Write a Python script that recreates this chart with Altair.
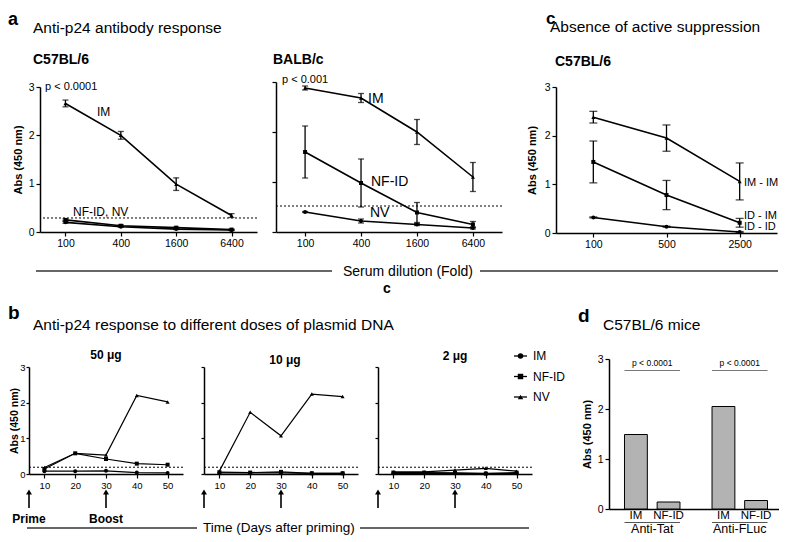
import altair as alt
import pandas as pd

FONT = "Liberation Sans"

# ---------------- Panel a: anti-p24 antibody response ----------------
dilutions_a = ["100", "400", "1600", "6400"]
a_series = ["IM", "NF-ID", "NV"]
c57_im = [2.66, 2.00, 0.99, 0.34]
c57_im_err = [0.07, 0.08, 0.13, 0.04]
c57_nfid = [0.25, 0.13, 0.09, 0.05]
c57_nfid_err = [0.02, 0.02, 0.01, 0.01]
c57_nv = [0.20, 0.11, 0.06, 0.04]
c57_nv_err = [0.02, 0.01, 0.01, 0.01]
c57_cutoff = [0.29]

balb_im = [2.88, 2.68, 2.00, 1.10]
balb_im_err = [0.04, 0.09, 0.25, 0.29]
balb_nfid = [1.60, 0.98, 0.39, 0.15]
balb_nfid_err = [0.52, 0.48, 0.20, 0.06]
balb_nv = [0.40, 0.22, 0.15, 0.08]
balb_nv_err = [0.01, 0.04, 0.02, 0.02]
balb_cutoff = [0.52]

# ---------------- Panel c: absence of active suppression ----------------
dilutions_c = ["100", "500", "2500"]
c_series = ["IM - IM", "ID - IM", "ID - ID"]
c_imim = [2.38, 1.95, 1.06]
c_imim_err = [0.12, 0.27, 0.38]
c_idim = [1.46, 0.78, 0.21]
c_idim_err = [0.43, 0.30, 0.09]
c_idid = [0.32, 0.13, 0.02]
c_idid_err = [0.01, 0.01, 0.01]

# ---------------- Panel b: doses of plasmid DNA ----------------
days = [10, 20, 30, 40, 50]
b_series = ["IM", "NF-ID", "NV"]
b50_im = [0.18, 0.58, 0.53, 2.20, 2.02]
b50_nfid = [0.14, 0.58, 0.42, 0.29, 0.26]
b50_nv = [0.08, 0.08, 0.09, 0.04, 0.03]
b10_im = [0.08, 1.73, 1.07, 2.24, 2.17]
b10_nfid = [0.05, 0.04, 0.06, 0.02, 0.02]
b10_nv = [0.03, 0.03, 0.03, 0.02, 0.02]
b2_im = [0.06, 0.06, 0.11, 0.16, 0.08]
b2_nfid = [0.04, 0.04, 0.03, 0.01, 0.04]
b2_nv = [0.02, 0.02, 0.02, 0.02, 0.02]
b_cutoff = [0.19]
immunisation_days = [5, 30]
immunisation_labels = ["Prime", "Boost"]

# ---------------- Panel d: C57BL/6 mice ----------------
d_antigens = ["Anti-Tat", "Anti-FLuc"]
d_routes = ["IM", "NF-ID"]
d_tat = [1.49, 0.14]
d_fluc = [2.05, 0.17]
d_pvalue = "p < 0.0001"
d_pline = 2.78


def long_df(xs, names, values, errs):
    rows = []
    for n, v, e in zip(names, values, errs):
        for i, (x, vv, ee) in enumerate(zip(xs, v, e)):
            rows.append({"x": x, "idx": i, "series": n, "value": vv, "err": ee})
    return pd.DataFrame(rows)


def txt(s, x, y, size=12, weight="normal", align="left", baseline="middle"):
    return alt.Chart(pd.DataFrame({"t": [s]})).mark_text(
        align=align, baseline=baseline, fontSize=size, fontWeight=weight,
        color="black", font=FONT
    ).encode(text="t:N", x=alt.value(x), y=alt.value(y))


def hline(x1, x2, y, color="#333333", width=1.3):
    return alt.Chart(pd.DataFrame({"z": [0]})).mark_rule(
        color=color, strokeWidth=width
    ).encode(x=alt.value(x1), x2=alt.value(x2), y=alt.value(y))


def anchor(x, y):
    # 1px white box that pins the outer bounds of a row
    return alt.Chart(pd.DataFrame({"z": [0]})).mark_rect(color="white", opacity=1).encode(
        x=alt.value(x), x2=alt.value(x + 1), y=alt.value(y), y2=alt.value(y + 1))


def spacer(w, h=1):
    return alt.Chart(pd.DataFrame({"z": [0]})).mark_point(opacity=0).encode(
        x=alt.value(0), y=alt.value(0)
    ).properties(width=w, height=h)


AX = dict(domainColor="black", tickColor="black", labelColor="black", titleColor="black",
          domainWidth=1.5, tickWidth=1.2, labelFont=FONT, titleFont=FONT, grid=False,
          titleFontWeight="bold", titleFontSize=11, labelPadding=2)


def line_layers(df, xtype, xs, xax, ys, yax, shapes, shape_range,
                pt_size, lw, cutoff, err=True, cap=6):
    def X():
        return alt.X(f"x:{xtype}", scale=xs, axis=xax)

    def Y(field):
        return alt.Y(f"{field}:Q", scale=ys, axis=yax)

    base = alt.Chart(df)
    layers = [
        base.mark_line(color="black", strokeWidth=lw).encode(
            x=X(), y=Y("value"), detail="series:N", order="idx:Q"
        ),
    ]
    if cutoff:
        layers.append(alt.Chart(pd.DataFrame({"c": cutoff})).mark_rule(
            color="black", strokeDash=[2, 2], strokeWidth=1
        ).encode(y=Y("c")))
    if err:
        layers.append(
            base.transform_calculate(
                lo="datum.value - datum.err", hi="datum.value + datum.err"
            ).mark_errorbar(ticks=True, size=cap, thickness=1.3, color="black").encode(
                x=X(), y=Y("lo"), y2="hi:Q"
            )
        )
    layers.append(
        base.mark_point(filled=True, color="black", opacity=1, size=pt_size).encode(
            x=X(), y=Y("value"),
            shape=alt.Shape("series:N", scale=alt.Scale(domain=shapes, range=shape_range), legend=None),
        )
    )
    return layers


yvals = [0, 1, 2, 3]

# ---------- C57BL/6 (panel a) ----------
c57_df = long_df(dilutions_a, a_series, [c57_im, c57_nfid, c57_nv],
                 [c57_im_err, c57_nfid_err, c57_nv_err])
xax_a = alt.Axis(title=None, labelAngle=0, labelFontSize=10.5, tickSize=4, **AX)
c57_layers = line_layers(
    c57_df, "O", alt.Scale(type="point", domain=dilutions_a, padding=0.46), xax_a,
    alt.Scale(domain=[0, 3], range=[150, 5], nice=False),
    alt.Axis(values=yvals, title="Abs (450 nm)", titlePadding=5, labelFontSize=10.5, tickSize=4, **AX),
    a_series, ["triangle-up", "square", "circle"], 16, 1.6, c57_cutoff,
)
c57 = alt.layer(
    *c57_layers,
    anchor(-38, -80),
    anchor(-38, 217),
    txt("a", -32, -57, 18, "bold", "left", "alphabetic"),
    txt("Anti-p24 antibody response", -7, -54, 15.5),
    txt("C57BL/6", -7, -22, 14, "bold"),
    txt("p < 0.0001", 5, 5, 11),
    txt("IM", 57, 30, 12),
    txt("NF-ID, NV", 33, 130, 12),
    hline(-4, 292, 189),
    txt("Serum dilution (Fold)", 303, 194, 14, "normal", "left", "alphabetic"),
    hline(440, 738, 189),
    txt("c", 347, 211, 14, "bold", "center", "alphabetic"),
).properties(width=217, height=150)

# ---------- BALB/c (panel a) ----------
balb_df = long_df(dilutions_a, a_series, [balb_im, balb_nfid, balb_nv],
                  [balb_im_err, balb_nfid_err, balb_nv_err])
balb_layers = line_layers(
    balb_df, "O", alt.Scale(type="point", domain=dilutions_a, padding=0.52), xax_a,
    alt.Scale(domain=[0, 3], nice=False),
    alt.Axis(values=yvals, title=None, labels=False, tickSize=4, **AX),
    a_series, ["triangle-up", "square", "circle"], 16, 1.6, balb_cutoff,
)
balb = alt.layer(
    *balb_layers,
    txt("BALB/c", -3, -22, 14, "bold"),
    txt("p < 0.001", 6, -2, 11),
    txt("IM", 92, 17, 14),
    txt("NF-ID", 95, 100, 14),
    txt("NV", 94, 131, 14),
).properties(width=226, height=150)

# ---------- panel c ----------
c_df = long_df(dilutions_c, c_series, [c_imim, c_idim, c_idid],
               [c_imim_err, c_idim_err, c_idid_err])
c_layers = line_layers(
    c_df, "O", alt.Scale(type="point", domain=dilutions_c, padding=0.51), xax_a,
    alt.Scale(domain=[0, 3], range=[151, 5], nice=False),
    alt.Axis(values=yvals, title="Abs (450 nm)", titlePadding=7, labelFontSize=10.5, tickSize=4, **AX),
    c_series, ["triangle-up", "square", "circle"], 16, 1.6, [], cap=8,
)
cpan = alt.layer(
    *c_layers,
    txt("c", -10, -58, 17, "bold", "left", "alphabetic"),
    txt("Absence of active suppression", -6, -55, 15.5),
    txt("C57BL/6", -1, -20, 14, "bold"),
    txt("IM - IM", 188, 101, 11),
    txt("ID - IM", 188, 134, 11),
    txt("ID - ID", 188, 145, 11),
).properties(width=221, height=151)


# ---------- panel b ----------
def b_panel(im, nfid, nv, dose, dose_x, dose_y, first, extra):
    df = long_df(days, b_series, [im, nfid, nv], [[0] * 5] * 3)
    xs = alt.Scale(domain=[5, 55], nice=False, zero=False)
    xax = alt.Axis(values=days, title=None, labelFontSize=9.5, tickSize=4, format="d", **AX)
    ys = alt.Scale(domain=[0, 3], range=[115, 8], nice=False)
    ax_kw = dict(AX)
    ax_kw.update(labelPadding=1, titleFontSize=10.5)
    yax = alt.Axis(values=yvals, title="Abs (450 nm)" if first else None,
                   labels=first, labelFontSize=9.5, tickSize=3, titlePadding=0, **ax_kw)
    layers = line_layers(df, "Q", xs, xax, ys, yax, b_series,
                         ["circle", "square", "triangle-up"], 16, 1.2, b_cutoff, err=False)
    arr = pd.DataFrame({"day": immunisation_days, "label": immunisation_labels})
    layers.append(alt.Chart(arr).mark_rule(color="black", strokeWidth=1.6).encode(
        x=alt.X("day:Q", scale=xs, axis=xax), y=alt.value(134), y2=alt.value(149)))
    layers.append(alt.Chart(arr).mark_point(shape="triangle-up", filled=True, color="black",
                                            opacity=1, size=35).encode(
        x=alt.X("day:Q", scale=xs, axis=xax), y=alt.value(133)))
    if first:
        layers.append(alt.Chart(arr).mark_text(fontSize=12, fontWeight="bold", color="black",
                                               font=FONT, baseline="middle").encode(
            x=alt.X("day:Q", scale=xs, axis=xax), y=alt.value(160), text="label:N"))
    layers.append(txt(dose, dose_x, dose_y, 12, "bold", "center"))
    return alt.layer(*layers, *extra).properties(width=154, height=115)


b50 = b_panel(b50_im, b50_nfid, b50_nv, "50 μg", 77, -4, True, [
    anchor(-21, -59),
    txt("b", -21, -40, 19, "bold", "left", "alphabetic"),
    txt("Anti-p24 response to different doses of plasmid DNA", 4, -34, 15.5),
    hline(-2, 168, 169),
    txt("Time (Days after priming)", 174, 169, 13.5),
    hline(331, 500, 169),
])
b10 = b_panel(b10_im, b10_nfid, b10_nv, "10 μg", 81, 1, False, [])

legend_layers = []
for i, (name, shp) in enumerate(zip(b_series, ["circle", "square", "triangle-up"])):
    yy = -3 + 20.5 * i
    legend_layers.append(hline(136, 149, yy, "black", 1.3))
    legend_layers.append(alt.Chart(pd.DataFrame({"z": [0]})).mark_point(
        shape=shp, filled=True, color="black", opacity=1, size=30
    ).encode(x=alt.value(142.5), y=alt.value(yy)))
    legend_layers.append(txt(name, 155, yy, 12))
b2 = b_panel(b2_im, b2_nfid, b2_nv, "2 μg", 77, -3, False, legend_layers)

# ---------- panel d ----------
d_df = pd.DataFrame({
    "antigen": [a for a in d_antigens for _ in d_routes],
    "route": d_routes * len(d_antigens),
    "value": d_tat + d_fluc,
})
g_df = pd.DataFrame({"antigen": d_antigens, "p": [d_pvalue] * len(d_antigens)})
xd_scale = alt.Scale(domain=d_antigens, paddingInner=0.366, paddingOuter=0.177)
xd_axis = alt.Axis(labels=False, ticks=False, title=None, **AX)
xo = alt.XOffset("route:N", scale=alt.Scale(domain=d_routes, paddingInner=0.3, paddingOuter=0))
yd = alt.Scale(domain=[0, 3], nice=False)
yd_axis = alt.Axis(values=yvals, title="Abs (450 nm)", titlePadding=5, labelFontSize=10.5, tickSize=4, **AX)


def XD():
    return alt.X("antigen:N", scale=xd_scale, axis=xd_axis)


dpan = alt.layer(
    alt.Chart(d_df).mark_bar(color="#b3b3b3", stroke="black", strokeWidth=1).encode(
        x=XD(), xOffset=xo, y=alt.Y("value:Q", scale=yd, axis=yd_axis),
    ),
    alt.Chart(d_df).mark_text(fontSize=11.5, baseline="middle", color="black", font=FONT).encode(
        x=XD(), xOffset=xo, y=alt.value(157), text="route:N"),
    alt.Chart(g_df).mark_rect(color="#555555").encode(x=XD(), y=alt.value(163), y2=alt.value(164)),
    alt.Chart(g_df).mark_text(fontSize=12.5, baseline="middle", color="black", font=FONT).encode(
        x=XD(), y=alt.value(170), text="antigen:N"),
    alt.Chart(g_df).mark_rect(color="#777777").encode(
        x=XD(), y=alt.datum(d_pline, scale=yd, axis=yd_axis), y2=alt.datum(d_pline - 0.02)),
    alt.Chart(g_df).mark_text(fontSize=8.5, baseline="middle", color="black", font=FONT).encode(
        x=XD(), y=alt.datum(d_pline + 0.14, scale=yd, axis=yd_axis), text="p:N"),
    txt("d", -31, -37, 19, "bold", "left", "alphabetic"),
    txt("C57BL/6 mice", -6, -34, 15.5),
).properties(width=174, height=150)

top_row = alt.hconcat(spacer(11), c57, spacer(19), balb, spacer(54), cpan,
                      spacing=0, bounds="flush")
bottom_row = alt.hconcat(b50, spacer(21), b10, spacer(20), b2, spacer(77), dpan,
                         spacing=0, bounds="flush")

chart = alt.vconcat(
    top_row, bottom_row, spacing=0,
    padding={"left": -6, "top": -6, "right": -4, "bottom": -1},
).configure_view(stroke=None).configure_text(font=FONT)

chart.save("out.html", embed_options={"renderer": "svg", "actions": False})
